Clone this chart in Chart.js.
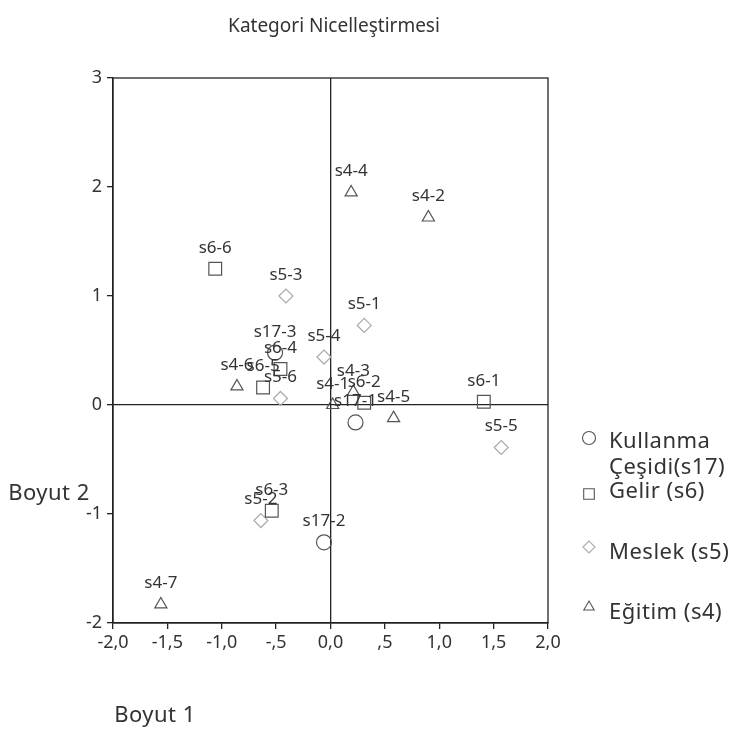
<!DOCTYPE html>
<html>
<head>
<meta charset="utf-8">
<script src="https://cdn.jsdelivr.net/npm/chart.js@4/dist/chart.umd.min.js"></script>
<style>
  body { margin: 0; background: #fff; }
</style>
</head>
<body>
<canvas id="quant-chart" width="735" height="737"></canvas>
<script>
// category points (Boyut 1 = x, Boyut 2 = y)
var s17Labels = ['s17-1', 's17-2', 's17-3'],
    s17X = [0.23, -0.06, -0.51],
    s17Y = [-0.16, -1.26, 0.48];

var s6Labels = ['s6-1', 's6-2', 's6-3', 's6-4', 's6-5', 's6-6'],
    s6X = [1.41, 0.31, -0.54, -0.46, -0.62, -1.06],
    s6Y = [0.03, 0.02, -0.97, 0.33, 0.16, 1.25];

var s5Labels = ['s5-1', 's5-2', 's5-3', 's5-4', 's5-5', 's5-6'],
    s5X = [0.31, -0.64, -0.41, -0.06, 1.57, -0.46],
    s5Y = [0.73, -1.06, 1.00, 0.44, -0.39, 0.06];

var s4Labels = ['s4-1', 's4-2', 's4-3', 's4-4', 's4-5', 's4-6', 's4-7'],
    s4X = [0.02, 0.90, 0.21, 0.19, 0.58, -0.86, -1.56],
    s4Y = [0.00, 1.72, 0.12, 1.95, -0.12, 0.17, -1.83];

var seriesNames = [['Kullanma', 'Çeşidi(s17)'], ['Gelir (s6)'], ['Meslek (s5)'], ['Eğitim (s4)']];

var FONT = '"Noto Sans", "Open Sans", sans-serif';

function toPoints(xs, ys) {
  return xs.map(function(x, i) { return { x: x, y: ys[i] }; });
}

function fmtX(v) {
  if (Math.abs(v) < 1e-9) return '0,0';
  var s = Math.abs(v).toFixed(1).replace('.', ',');
  if (Math.abs(v) < 1) s = s.substring(1);   // ",5" instead of "0,5"
  return (v < 0 ? '-' : '') + s;
}

// point names above each mark
var pointLabels = {
  id: 'pointLabels',
  afterDatasetsDraw: function(chart) {
    var ctx = chart.ctx;
    ctx.save();
    ctx.font = '17px ' + FONT;
    ctx.fillStyle = '#333';
    ctx.textAlign = 'center';
    ctx.textBaseline = 'middle';
    chart.data.datasets.forEach(function(ds, di) {
      var meta = chart.getDatasetMeta(di);
      meta.data.forEach(function(el, i) {
        ctx.fillText(ds.names[i], el.x, el.y - 21);
      });
    });
    ctx.restore();
  }
};

// frame, titles and the side legend
var frameAndText = {
  id: 'frameAndText',
  afterDraw: function(chart) {
    var ctx = chart.ctx,
        a = chart.chartArea;
    ctx.save();
    ctx.strokeStyle = '#222';
    ctx.lineWidth = 1.3;
    ctx.strokeRect(a.left, a.top, a.right - a.left, a.bottom - a.top);

    ctx.fillStyle = '#333';
    ctx.textBaseline = 'middle';
    ctx.textAlign = 'center';
    ctx.font = '19px ' + FONT;
    ctx.fillText('Kategori Nicelleştirmesi', 334, 27);

    ctx.font = '22px ' + FONT;
    ctx.letterSpacing = '0.5px';
    ctx.fillText('Boyut 2', 49, 494);
    ctx.fillText('Boyut 1', 155, 716);

    // legend
    var rows = [
      { y: 438, text: [442, 468] },
      { y: 494, text: [492] },
      { y: 547, text: [553] },
      { y: 607, text: [613] }
    ];
    ctx.textAlign = 'left';
    ctx.font = '22px ' + FONT;
    chart.data.datasets.forEach(function(ds, di) {
      var r = rows[di];
      ctx.strokeStyle = ds.borderColor;
      ctx.fillStyle = 'rgba(0,0,0,0)';
      ctx.lineWidth = 1.1;
      Chart.helpers.drawPoint(ctx, {
        pointStyle: ds.pointStyle,
        radius: ds.legendRadius,
        rotation: 0,
        borderWidth: 1.1
      }, 589, r.y);
      ctx.fillStyle = '#333';
      seriesNames[di].forEach(function(line, li) {
        ctx.fillText(line, 609, r.text[li]);
      });
    });
    ctx.restore();
  }
};

var ctx = document.getElementById('quant-chart').getContext('2d'),
    quantChart = new Chart(ctx, {
      type: 'scatter',
      data: {
        datasets: [{
          label: 'Kullanma Çeşidi(s17)',
          data: toPoints(s17X, s17Y),
          names: s17Labels,
          pointStyle: 'circle',
          pointRadius: 7.5,
          legendRadius: 6.5,
          borderColor: '#555',
          backgroundColor: 'rgba(0,0,0,0)',
          borderWidth: 1.2
        }, {
          label: 'Gelir (s6)',
          data: toPoints(s6X, s6Y),
          names: s6Labels,
          pointStyle: 'rect',
          pointRadius: 9,
          legendRadius: 7.5,
          borderColor: '#555',
          backgroundColor: 'rgba(0,0,0,0)',
          borderWidth: 1.2
        }, {
          label: 'Meslek (s5)',
          data: toPoints(s5X, s5Y),
          names: s5Labels,
          pointStyle: 'rectRot',
          pointRadius: 7,
          legendRadius: 6,
          borderColor: '#aaa',
          backgroundColor: 'rgba(0,0,0,0)',
          borderWidth: 1.2
        }, {
          label: 'Eğitim (s4)',
          data: toPoints(s4X, s4Y),
          names: s4Labels,
          pointStyle: 'triangle',
          pointRadius: 7,
          legendRadius: 6,
          borderColor: '#555',
          backgroundColor: 'rgba(0,0,0,0)',
          borderWidth: 1.2
        }]
      },
      options: {
        responsive: false,
        animation: false,
        layout: { padding: { top: 78, right: 187, left: 0, bottom: 0 } },
        plugins: {
          legend: { display: false },
          tooltip: { enabled: false }
        },
        scales: {
          x: {
            min: -2, max: 2,
            afterFit: function(s) { s.height = 114; },
            ticks: {
              stepSize: 0.5,
              autoSkip: false,
              maxRotation: 0,
              padding: 3,
              color: '#333',
              font: { family: FONT, size: 18 },
              callback: function(v) { return fmtX(v); }
            },
            grid: {
              color: function(c) { return c.tick && c.tick.value === 0 ? '#222' : 'rgba(0,0,0,0)'; },
              tickColor: '#222',
              tickLength: 6,
              lineWidth: 1.3
            },
            border: { color: '#222', width: 1.3 }
          },
          y: {
            min: -2, max: 3,
            afterFit: function(s) { s.width = 113; },
            ticks: {
              stepSize: 1,
              padding: 5,
              color: '#333',
              font: { family: FONT, size: 18 }
            },
            grid: {
              color: function(c) { return c.tick && c.tick.value === 0 ? '#222' : 'rgba(0,0,0,0)'; },
              tickColor: '#222',
              tickLength: 6,
              lineWidth: 1.3
            },
            border: { color: '#222', width: 1.3 }
          }
        }
      },
      plugins: [pointLabels, frameAndText]
    });
</script>
</body>
</html>
